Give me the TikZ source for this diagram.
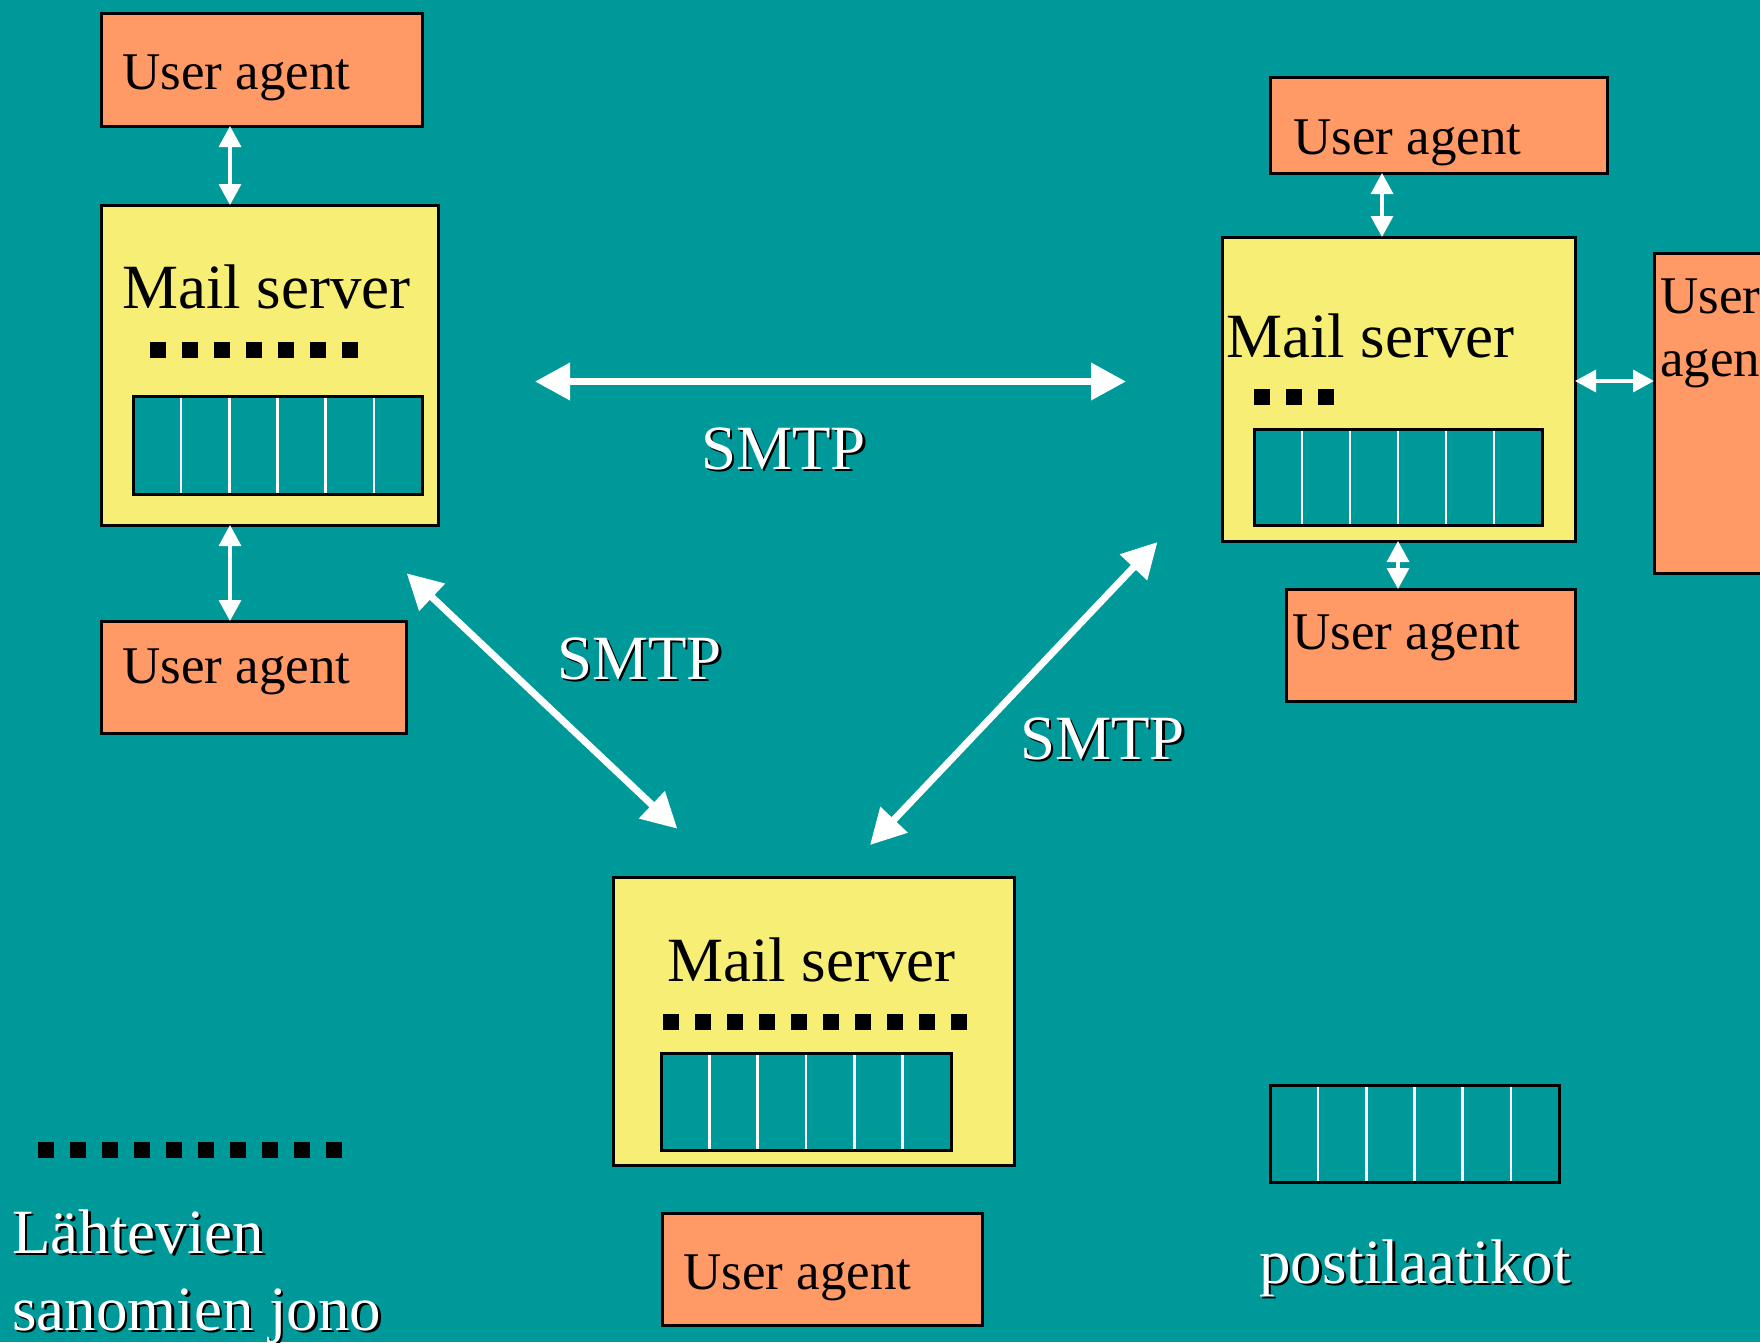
\documentclass[tikz,border=0pt]{standalone}
\usepackage{fontspec}
\setmainfont{Liberation Serif}
\usetikzlibrary{arrows.meta}
\definecolor{bgteal}{RGB}{0,153,153}
\definecolor{uaorange}{RGB}{255,153,102}
\definecolor{msyellow}{RGB}{246,238,117}
\tikzset{
  box/.style={draw=black, line width=3pt, inner sep=0pt, outer sep=0pt, anchor=north west},
  uabox/.style={box, fill=uaorange},
  msbox/.style={box, fill=msyellow},
  mbox/.style={box, fill=bgteal},
  uatext/.style={anchor=base west, inner sep=0pt, font=\fontsize{53}{63}\selectfont, text=black},
  mstext/.style={anchor=base west, inner sep=0pt, font=\fontsize{63}{75}\selectfont, text=black},
  lbltext/.style={anchor=base west, inner sep=0pt, font=\fontsize{63}{76}\selectfont, text=white},
  lblshadow/.style={lbltext, text=black},
  smallarr/.style={draw=white, line width=3.5pt, {Triangle[length=21pt,width=22pt]}-{Triangle[length=21pt,width=22pt]}},
  bigarr/.style={draw=white, line width=7pt, {Triangle[length=35pt,width=36pt]}-{Triangle[length=35pt,width=36pt]}},
}
\newcommand\drawmailbox[5]{%
  \node[mbox, minimum width=#4pt, minimum height=#5pt] (#1) at (#2,#3) {};
  \foreach \k in {1,...,5}{\draw[white,line width=2.5pt] ({#2+\k*#4/6},{#3+1.5}) -- ({#2+\k*#4/6},{#3+#5-1.5});}
}
\newcommand\dotrow[3]{%
  \foreach \k in {1,...,#3}{\fill[black] ({#1+(\k-1)*32},#2) rectangle ++(16,16);}
}
\newcommand\shadowlabel[4]{%
  \node[lblshadow] (#1s) at ({#2+2.5},{#3+2.5}) {#4};
  \node[lbltext] (#1) at (#2,#3) {#4};
}
\begin{document}
\begin{tikzpicture}[x=1pt,y=-1pt]
\fill[bgteal] (0,0) rectangle (1760,1342);
\useasboundingbox (0,0) rectangle (1760,1342);

% left server group
\node[uabox, minimum width=321pt, minimum height=113pt] (ua1) at (101,13) {};
\node[uatext] (ua1t) at (122,89) {User agent};
\node[msbox, minimum width=337pt, minimum height=320pt] (ms1) at (101,205) {};
\node[mstext] (ms1t) at (122,308) {Mail server};
\dotrow{150}{342}{7}
\drawmailbox{mb1}{133}{396}{289}{98}
\node[uabox, minimum width=305pt, minimum height=112pt] (ua6) at (101,621) {};
\node[uatext] (ua6t) at (122,683) {User agent};

% right server group
\node[uabox, minimum width=337pt, minimum height=96pt] (ua2) at (1270,77) {};
\node[uatext] (ua2t) at (1293,154) {User agent};
\node[msbox, minimum width=353pt, minimum height=304pt] (ms2) at (1222,237) {};
\node[mstext] (ms2t) at (1226,357) {Mail server};
\dotrow{1254}{389}{3}
\drawmailbox{mb2}{1254}{429}{288}{96}
\node[uabox, minimum width=125pt, minimum height=320pt] (ua3) at (1654,253) {};
\node[uatext] (ua3ta) at (1660,313) {User};
\node[uatext] (ua3tb) at (1660,376) {agent};
\node[uabox, minimum width=289pt, minimum height=112pt] (ua4) at (1286,589) {};
\node[uatext] (ua4t) at (1292,649) {User agent};

% bottom server group
\node[msbox, minimum width=401pt, minimum height=288pt] (ms3) at (613,877) {};
\node[mstext] (ms3t) at (667,981) {Mail server};
\dotrow{662.5}{1014}{10}
\drawmailbox{mb3}{661}{1053}{290}{97}
\node[uabox, minimum width=320pt, minimum height=112pt] (ua5) at (662,1213) {};
\node[uatext] (ua5t) at (683,1289) {User agent};

% legend
\dotrow{38}{1142}{10}
\shadowlabel{leg1}{12}{1253}{Lähtevien}
\shadowlabel{leg2}{12}{1330}{sanomien jono}
\drawmailbox{mbl}{1270}{1085}{289}{97}
\shadowlabel{leg3}{1259}{1283}{postilaatikot}

% SMTP labels
\shadowlabel{smtpa}{701}{469}{SMTP}
\shadowlabel{smtpb}{557}{679}{SMTP}
\shadowlabel{smtpc}{1020}{759}{SMTP}

% small user agent arrows
\draw[smallarr] ([xshift=129pt]ua1.south west) -- ([xshift=129pt]ms1.north west);
\draw[smallarr] ([xshift=129pt]ms1.south west) -- ([xshift=129pt]ua6.north west);
\draw[smallarr] ([xshift=112pt]ua2.south west) -- ([xshift=160pt]ms2.north west);
\draw[smallarr] ([xshift=176pt]ms2.south west) -- ([xshift=112pt]ua4.north west);
\draw[smallarr] ([yshift=-144pt]ms2.north east) -- ([yshift=-128pt]ua3.north west);

% SMTP arrows
\coordinate (h1) at (535,381.5);
\coordinate (h2) at (1126,381.5);
\coordinate (d1) at (406.7,573.3);
\coordinate (d2) at (677.3,828.7);
\coordinate (e1) at (1157.5,542);
\coordinate (e2) at (870,845);
\draw[bigarr] (h1) -- (h2);
\draw[bigarr] (d1) -- (d2);
\draw[bigarr] (e1) -- (e2);
\end{tikzpicture}
\end{document}
